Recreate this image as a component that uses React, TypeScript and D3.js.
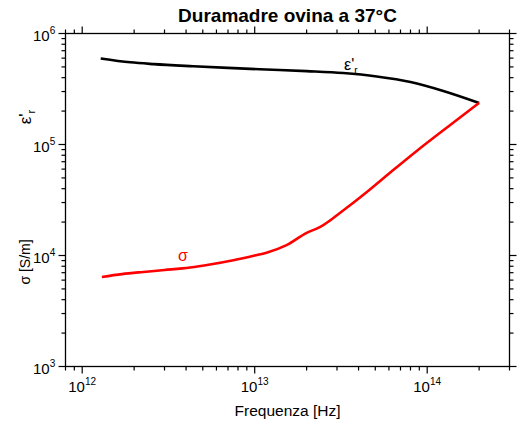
import React from "react";
import * as d3 from "d3";

// Relative permittivity ε'r of sheep dura mater at 37 °C
const epsFreq = [1.28e12, 1.9e12, 2.6e12, 4.4e12, 7.0e12, 1.07e13, 2.0e13, 3.26e13, 5.1e13, 8.0e13, 1.24e14, 2.0e14];
const epsValues = [5.96e5, 5.5e5, 5.3e5, 5.07e5, 4.9e5, 4.76e5, 4.58e5, 4.4e5, 4.1e5, 3.66e5, 3.04e5, 2.37e5];

// Conductivity σ [S/m]
const sigmaFreq = [1.3e12, 1.7e12, 2.26e12, 3.0e12, 4.22e12, 5.5e12, 7.52e12, 1.0e13, 1.17e13, 1.53e13, 2.0e13, 2.4e13, 3.27e13, 4.47e13, 6.11e13, 8.73e13, 1.36e14, 2.0e14];
const sigmaValues = [6.41e3, 6.8e3, 7.11e3, 7.4e3, 7.8e3, 8.3e3, 9.07e3, 1.0e4, 1.06e4, 1.24e4, 1.6e4, 1.81e4, 2.56e4, 3.74e4, 5.6e4, 8.8e4, 1.5e5, 2.37e5];

const xDomain = [8e11, 3e14];
const yDomain = [1e3, 1e6];
const xMajorExponents = [12, 13, 14];
const yMajorExponents = [3, 4, 5, 6];

const title = "Duramadre ovina a 37°C";
const xTitle = "Frequenza [Hz]";
const sigmaTitle = "σ [S/m]";

const W = 520;
const H = 427;
const L = 65.5, R = 509.5, T = 33.5, B = 366.5;
const FONT = "'Liberation Sans', Arial, sans-serif";

function logTicks(domain: number[]) {
  const out: { v: number; major: boolean }[] = [];
  const lo = Math.floor(Math.log10(domain[0]));
  const hi = Math.ceil(Math.log10(domain[1]));
  for (let e = lo; e <= hi; e++) {
    for (let m = 1; m <= 9; m++) {
      const v = m * Math.pow(10, e);
      if (v >= domain[0] * 0.999 && v <= domain[1] * 1.001) out.push({ v, major: m === 1 });
    }
  }
  return out;
}

export default function App() {
  const x = d3.scaleLog().domain(xDomain).range([L, R]);
  const y = d3.scaleLog().domain(yDomain).range([B, T]);
  const line = d3
    .line<[number, number]>()
    .x((d) => x(d[0]))
    .y((d) => y(d[1]))
    .curve(d3.curveMonotoneX);

  const epsPath = line(epsFreq.map((f, i) => [f, epsValues[i]]) as [number, number][]) || "";
  const sigmaPath = line(sigmaFreq.map((f, i) => [f, sigmaValues[i]]) as [number, number][]) || "";

  const xt = logTicks(xDomain);
  const yt = logTicks(yDomain);
  const majorLen = 7;
  const minorLen = 4;

  return (
    <svg
      width={W}
      height={H}
      style={{ position: "absolute", left: 0, top: 0, background: "#fff" }}
      fontFamily={FONT}
    >
      <rect x={0} y={0} width={W} height={H} fill="#fff" />
      <text x={(L + R) / 2} y={22} textAnchor="middle" fontSize={19} fontWeight="bold">
        {title}
      </text>

      {/* frame */}
      <rect x={L} y={T} width={R - L} height={B - T} fill="none" stroke="#000" strokeWidth={1.3} />

      {/* x ticks, bottom and top, pointing outward */}
      {xt.map((t, i) => {
        const px = x(t.v);
        const len = t.major ? majorLen : minorLen;
        return (
          <g key={"xt" + i} stroke="#000" strokeWidth={1.2}>
            <line x1={px} x2={px} y1={B} y2={B + len} />
            <line x1={px} x2={px} y1={T} y2={T - len} />
          </g>
        );
      })}
      {/* y ticks, left and right, pointing outward */}
      {yt.map((t, i) => {
        const py = y(t.v);
        const len = t.major ? majorLen : minorLen;
        return (
          <g key={"yt" + i} stroke="#000" strokeWidth={1.2}>
            <line x1={L} x2={L - len} y1={py} y2={py} />
            <line x1={R} x2={R + len} y1={py} y2={py} />
          </g>
        );
      })}

      {/* x tick labels */}
      {xMajorExponents.map((e) => (
        <text key={"xl" + e} x={x(Math.pow(10, e)) - 14} y={392} fontSize={15}>
          10
          <tspan dy={-7} fontSize={10}>
            {e}
          </tspan>
        </text>
      ))}
      {/* y tick labels */}
      {yMajorExponents.map((e) => (
        <text key={"yl" + e} x={33} y={y(Math.pow(10, e)) + 7} fontSize={15}>
          10
          <tspan dy={-7} fontSize={10}>
            {e}
          </tspan>
        </text>
      ))}

      {/* axis titles */}
      <text x={(L + R) / 2} y={416} textAnchor="middle" fontSize={15.5}>
        {xTitle}
      </text>
      <text transform={`translate(30,262) rotate(-90)`} textAnchor="middle" fontSize={14}>
        {sigmaTitle}
      </text>
      <text transform={`translate(31,117) rotate(-90)`} textAnchor="middle" fontSize={17}>
        ε'
        <tspan dy={4} fontSize={11}>
          r
        </tspan>
      </text>

      {/* curves */}
      <path d={epsPath} fill="none" stroke="#000" strokeWidth={2.6} strokeLinejoin="round" />
      <path d={sigmaPath} fill="none" stroke="#ff0000" strokeWidth={2.6} strokeLinejoin="round" />

      {/* curve labels */}
      <text x={344} y={70} fontSize={16}>
        ε'
        <tspan dy={4} fontSize={10}>
          r
        </tspan>
      </text>
      <text x={178} y={261} fontSize={16} fill="#ff0000">
        σ
      </text>
    </svg>
  );
}
